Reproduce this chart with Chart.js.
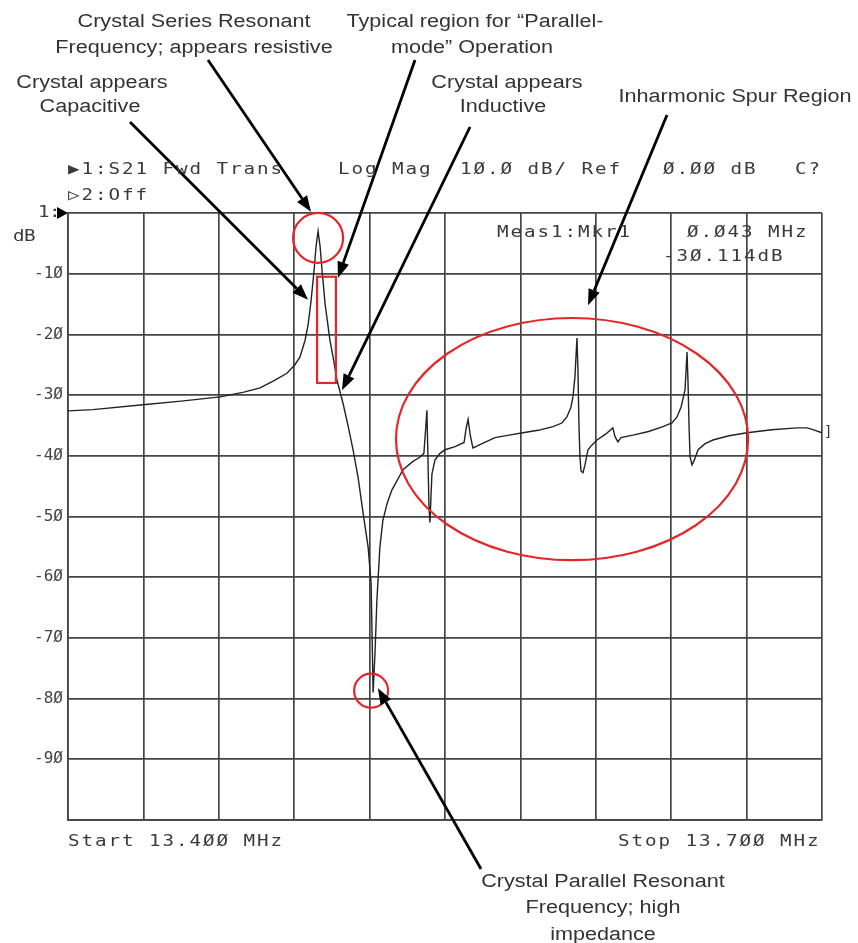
<!DOCTYPE html>
<html>
<head>
<meta charset="utf-8">
<script src="https://cdn.jsdelivr.net/npm/chart.js@4/dist/chart.umd.min.js"></script>
<style>
  html, body { margin: 0; background: #fff; }
</style>
</head>
<body>
<canvas id="chart" width="858" height="943"></canvas>
<script>
// S21 sweep of a crystal, 13.400 .. 13.700 MHz, Log Mag 10 dB/div, Ref 0 dB.
const freqMHz = [
  13.4000, 13.4099, 13.4298, 13.4450, 13.4605, 13.4700, 13.4764, 13.4820, 13.4871, 13.4903,
  13.4923, 13.4943, 13.4955, 13.4967, 13.4979, 13.4987, 13.4995, 13.5003, 13.5011, 13.5023,
  13.5042, 13.5058, 13.5070, 13.5094, 13.5114, 13.5134, 13.5154, 13.5174, 13.5194, 13.5206,
  13.5210, 13.5214, 13.5222, 13.5229, 13.5241, 13.5253, 13.5270, 13.5289, 13.5333, 13.5370,
  13.5401, 13.5416, 13.5424, 13.5428, 13.5432, 13.5436, 13.5440, 13.5444, 13.5448, 13.5460,
  13.5480, 13.5500, 13.5540, 13.5576, 13.5584, 13.5592, 13.5600, 13.5611, 13.5627, 13.5647,
  13.5699, 13.5755, 13.5810, 13.5870, 13.5930, 13.5965, 13.5985, 13.6001, 13.6009, 13.6017,
  13.6025, 13.6029, 13.6033, 13.6037, 13.6041, 13.6049, 13.6057, 13.6069, 13.6085, 13.6105,
  13.6140, 13.6168, 13.6176, 13.6188, 13.6200, 13.6248, 13.6310, 13.6367, 13.6403, 13.6423,
  13.6439, 13.6455, 13.6463, 13.6467, 13.6471, 13.6475, 13.6483, 13.6491, 13.6507, 13.6535,
  13.6566, 13.6630, 13.6702, 13.6800, 13.6901, 13.6940, 13.6964, 13.7000
];
const s21dB = [
  -32.6, -32.4, -31.6, -31.0, -30.3, -29.5, -28.8, -27.6, -26.4, -25.0,
  -23.7, -21.0, -18.5, -14.5, -9.5, -5.5, -3.0, -5.5, -9.5, -15.0,
  -20.9, -24.5, -27.5, -31.3, -35.0, -39.0, -43.5, -49.4, -55.0, -61.0,
  -70.0, -79.0, -72.0, -63.8, -55.0, -50.6, -47.8, -45.6, -42.3, -41.0,
  -40.2, -39.6, -35.0, -32.5, -40.0, -48.0, -51.0, -47.0, -43.0, -40.7,
  -39.6, -39.0, -38.5, -37.8, -35.5, -34.0, -36.5, -38.7, -38.4, -38.0,
  -37.0, -36.6, -36.2, -35.8, -35.2, -34.6, -33.6, -32.0, -30.3, -27.0,
  -20.6, -26.0, -35.0, -40.2, -42.5, -42.8, -41.5, -39.0, -38.2, -37.4,
  -36.4, -35.4, -36.8, -37.7, -37.0, -36.6, -36.0, -35.2, -34.6, -33.6,
  -32.0, -29.2, -22.9, -28.0, -35.0, -40.2, -41.5, -40.8, -39.0, -38.0,
  -37.4, -36.7, -36.2, -35.7, -35.4, -35.4, -35.7, -36.2
];
const xStart = 13.4, xStop = 13.7, xDivs = 10;
const yRef = 0, yBottom = -100, yPerDiv = 10;

const headerLines = [
  { t: '\u25B61:S21 Fwd Trans', x: 68, y: 170 },
  { t: 'Log Mag', x: 338, y: 170 },
  { t: '1\u00D8.\u00D8 dB/ Ref', x: 460, y: 170 },
  { t: '\u00D8.\u00D8\u00D8 dB', x: 663, y: 170 },
  { t: 'C?', x: 795, y: 170 },
  { t: '\u25B72:Off', x: 68, y: 196 },
  { t: 'Meas1:Mkr1', x: 497, y: 233 },
  { t: '\u00D8.\u00D843 MHz', x: 687, y: 233 },
  { t: '-3\u00D8.114dB', x: 663, y: 257 },
  { t: 'Start 13.4\u00D8\u00D8 MHz', x: 68, y: 842 },
  { t: 'Stop 13.7\u00D8\u00D8 MHz', x: 618, y: 842 },
];

// callouts: text lines (centre x, y) and arrow from (sx,sy) px to a data point (f, dB)
const notes = [
  { lines: [['Crystal Series Resonant', 194, 22], ['Frequency; appears resistive', 194, 48]], sx: 208, sy: 60, f: 13.4967, db: 0.2 },
  { lines: [['Typical region for \u201CParallel-', 475, 22], ['mode\u201D Operation', 472, 48]], sx: 415, sy: 60, f: 13.5074, db: -10.7 },
  { lines: [['Crystal appears', 92, 83], ['Capacitive', 90, 107]], sx: 130, sy: 122, f: 13.4955, db: -14.3 },
  { lines: [['Crystal appears', 507, 83], ['Inductive', 503, 107]], sx: 470, sy: 127, f: 13.5090, db: -29.2 },
  { lines: [['Inharmonic Spur Region', 735, 97]], sx: 667, sy: 115, f: 13.6069, db: -15.2 },
  { lines: [['Crystal Parallel Resonant', 603, 882], ['Frequency; high', 603, 908], ['impedance', 603, 935]], sx: 481, sy: 869, f: 13.5233, db: -78.3 },
];

const RED = '#e3262a';

// analyser-style text: fixed advance, glyphs stretched wide
function mono(ctx, s, x, y, adv) {
  for (let i = 0; i < s.length; i++) {
    ctx.save(); ctx.translate(x + i * adv, y); ctx.scale(1.2, 1);
    ctx.fillText(s[i], 0, 0); ctx.restore();
  }
}

function wideText(ctx, s, x, y, k) {
  ctx.save(); ctx.translate(x, y); ctx.scale(k, 1); ctx.fillText(s, 0, 0); ctx.restore();
}

function arrow(ctx, x0, y0, x1, y1) {
  const a = Math.atan2(y1 - y0, x1 - x0), L = 16, W = 6;
  const bx = x1 - L * Math.cos(a), by = y1 - L * Math.sin(a);
  ctx.strokeStyle = '#000'; ctx.fillStyle = '#000'; ctx.lineWidth = 2.8;
  ctx.beginPath(); ctx.moveTo(x0, y0); ctx.lineTo(bx, by); ctx.stroke();
  ctx.beginPath(); ctx.moveTo(x1, y1);
  ctx.lineTo(bx + W * Math.sin(a), by - W * Math.cos(a));
  ctx.lineTo(bx - W * Math.sin(a), by + W * Math.cos(a));
  ctx.closePath(); ctx.fill();
}

const overlay = {
  id: 'overlay',
  afterDatasetsDraw(c) {
    const ctx = c.ctx, X = c.scales.x, Y = c.scales.y;
    const px = (f) => X.getPixelForValue(f), py = (d) => Y.getPixelForValue(d);
    ctx.save();
    // red markings
    ctx.strokeStyle = RED; ctx.lineWidth = 2.2;
    ctx.beginPath(); ctx.arc(px(13.4995), py(-4.1), 25, 0, 2 * Math.PI); ctx.stroke();
    ctx.strokeRect(px(13.4991), py(-10.5), px(13.5066) - px(13.4991), py(-28.0) - py(-10.5));
    ctx.beginPath();
    ctx.ellipse((px(13.5305) + px(13.6706)) / 2, (py(-17.3) + py(-57.2)) / 2,
      (px(13.6706) - px(13.5305)) / 2, (py(-57.2) - py(-17.3)) / 2, 0, 0, 2 * Math.PI);
    ctx.stroke();
    ctx.beginPath(); ctx.arc(px(13.5206), py(-78.7), 17, 0, 2 * Math.PI); ctx.stroke();
    // end-of-trace bracket
    ctx.fillStyle = '#333'; ctx.font = '14px "DejaVu Sans Mono"'; ctx.textBaseline = 'middle';
    ctx.fillText(']', px(xStop) + 2, py(s21dB[s21dB.length - 1]));
    // arrows
    for (const n of notes) arrow(ctx, n.sx, n.sy, px(n.f), py(n.db));
    ctx.restore();
  },
  afterDraw(c) {
    const ctx = c.ctx, Y = c.scales.y, left = c.chartArea.left, top = Y.getPixelForValue(yRef);
    ctx.save();
    ctx.textBaseline = 'middle';
    ctx.fillStyle = '#3a3a3a';
    ctx.font = '16px "DejaVu Sans Mono"';
    for (const h of headerLines) mono(ctx, h.t, h.x, h.y, 13.5);
    // reference marker + unit
    mono(ctx, '1:', 38, top, 11);
    mono(ctx, 'dB', 13, top + 24, 11);
    ctx.fillStyle = '#000';
    ctx.beginPath(); ctx.moveTo(left - 11, top - 6); ctx.lineTo(left, top); ctx.lineTo(left - 11, top + 6); ctx.closePath(); ctx.fill();
    // callout text
    ctx.fillStyle = '#333'; ctx.textAlign = 'center';
    ctx.font = '18px "Liberation Sans", Arial, sans-serif';
    for (const n of notes) for (const [t, x, y] of n.lines) wideText(ctx, t, x, y, 1.2);
    ctx.restore();
  }
};

const gridStyle = { color: '#454545', lineWidth: 1.7, drawTicks: false };
const borderStyle = { display: true, color: '#454545', width: 1.7 };

new Chart(document.getElementById('chart'), {
  type: 'line',
  data: {
    datasets: [{
      data: freqMHz.map((f, i) => ({ x: f, y: s21dB[i] })),
      borderColor: '#222', borderWidth: 1.4, pointRadius: 0, tension: 0, fill: false
    }]
  },
  options: {
    responsive: false, animation: false, devicePixelRatio: 1,
    layout: { padding: { left: 0, top: 213, right: 36, bottom: 123 } },
    plugins: { legend: { display: false }, tooltip: { enabled: false } },
    scales: {
      x: {
        type: 'linear', min: xStart, max: xStop,
        ticks: { display: false, count: xDivs + 1 },
        grid: gridStyle, border: borderStyle,
        afterFit: (s) => { s.height = 0; }
      },
      y: {
        min: yBottom, max: yRef,
        ticks: {
          stepSize: yPerDiv, padding: 5, color: '#444',
          font: { family: 'DejaVu Sans Mono', size: 16 },
          callback: (v) => (v === yRef || v === yBottom) ? '' : '-' + Math.abs(v) / 10 + '\u00D8'
        },
        grid: gridStyle, border: borderStyle,
        afterFit: (s) => { s.width = 68; }
      }
    }
  },
  plugins: [overlay]
});
</script>
</body>
</html>
